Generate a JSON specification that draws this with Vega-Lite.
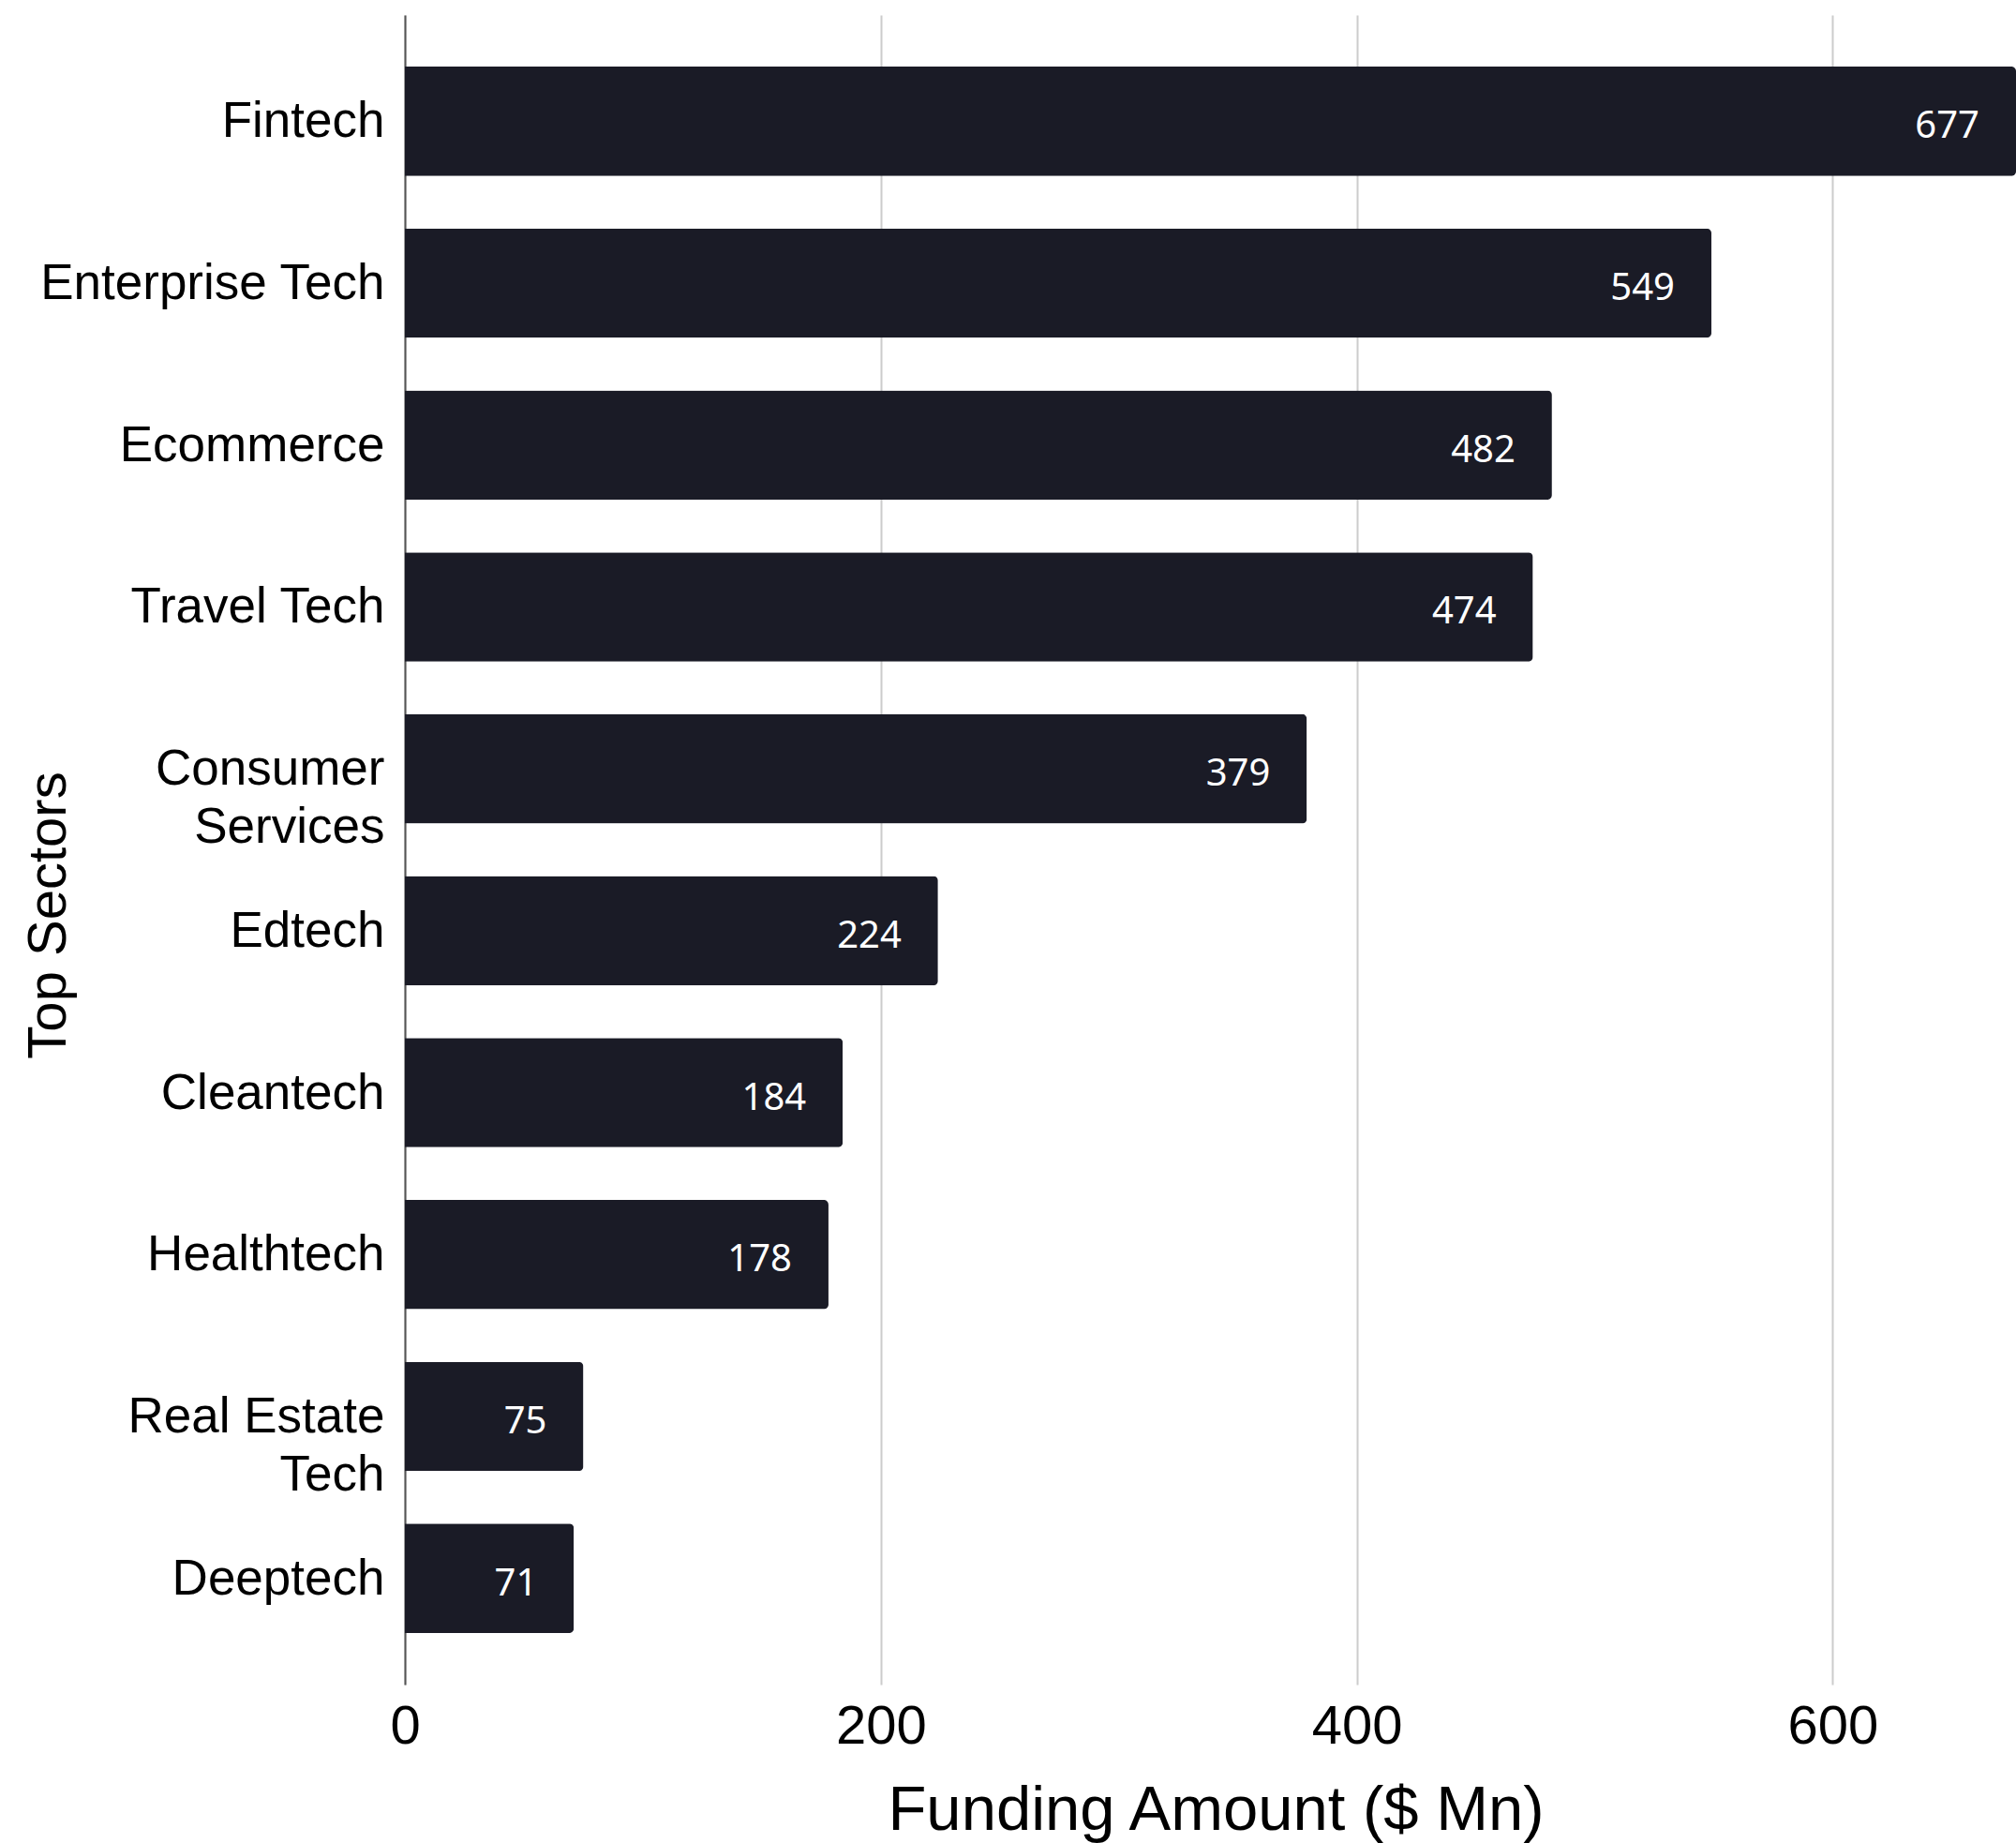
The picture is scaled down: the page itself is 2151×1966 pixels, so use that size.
{
  "$schema": "https://vega.github.io/schema/vega-lite/v6.json",
  "width": 1719,
  "height": 1781,
  "autosize": "none",
  "padding": {"left": 432, "top": 16, "right": 0, "bottom": 169},
  "background": "white",
  "config": {"view": {"stroke": null}},
  "data": {
    "values": [
      {"sector": "Fintech", "funding": 677},
      {"sector": "Enterprise Tech", "funding": 549},
      {"sector": "Ecommerce", "funding": 482},
      {"sector": "Travel Tech", "funding": 474},
      {"sector": "Consumer Services", "funding": 379},
      {"sector": "Edtech", "funding": 224},
      {"sector": "Cleantech", "funding": 184},
      {"sector": "Healthtech", "funding": 178},
      {"sector": "Real Estate Tech", "funding": 75},
      {"sector": "Deeptech", "funding": 71}
    ]
  },
  "encoding": {
    "y": {
      "field": "sector",
      "type": "nominal",
      "sort": ["Fintech", "Enterprise Tech", "Ecommerce", "Travel Tech", "Consumer Services", "Edtech", "Cleantech", "Healthtech", "Real Estate Tech", "Deeptech"],
      "scale": {"paddingInner": 0.325, "paddingOuter": 0.319},
      "axis": {
        "title": "Top Sectors",
        "titleFont": "Liberation Sans",
        "titleFontSize": 58,
        "titleFontWeight": "normal",
        "titleColor": "#000000",
        "titleAngle": 270,
        "titleAlign": "center",
        "titleBaseline": "middle",
        "titleX": -380,
        "titleY": 960,
        "labelFont": "Liberation Sans",
        "labelFontSize": 53,
        "labelColor": "#000000",
        "labelPadding": 22,
        "labelLimit": 1000,
        "labelLineHeight": 62,
        "labelExpr": "datum.value == 'Consumer Services' ? ['Consumer', 'Services'] : datum.value == 'Real Estate Tech' ? ['Real Estate', 'Tech'] : datum.label",
        "labelOffset": 1,
        "ticks": false,
        "domain": true,
        "domainColor": "#555555",
        "domainWidth": 2,
        "grid": false
      }
    },
    "x": {
      "field": "funding",
      "type": "quantitative",
      "scale": {"domain": [0, 677], "nice": false},
      "axis": {
        "title": "Funding Amount ($ Mn)",
        "titleFont": "Liberation Sans",
        "titleFontSize": 67,
        "titleFontWeight": "normal",
        "titleColor": "#000000",
        "titleBaseline": "alphabetic",
        "titleY": 154,
        "titleX": 865,
        "values": [0, 200, 400, 600],
        "labelFont": "Liberation Sans",
        "labelFontSize": 58,
        "labelColor": "#000000",
        "labelPadding": 16,
        "labelFlush": false,
        "ticks": false,
        "domain": false,
        "grid": true,
        "gridColor": "#cccccc",
        "gridWidth": 2
      }
    }
  },
  "layer": [
    {"mark": {"type": "bar", "color": "#1a1b26", "cornerRadiusEnd": 5}},
    {
      "mark": {"type": "text", "align": "right", "baseline": "middle", "dx": -39, "dy": 6, "color": "#ffffff", "font": "Noto Sans", "fontSize": 40},
      "encoding": {"text": {"field": "funding", "type": "quantitative"}}
    }
  ]
}
